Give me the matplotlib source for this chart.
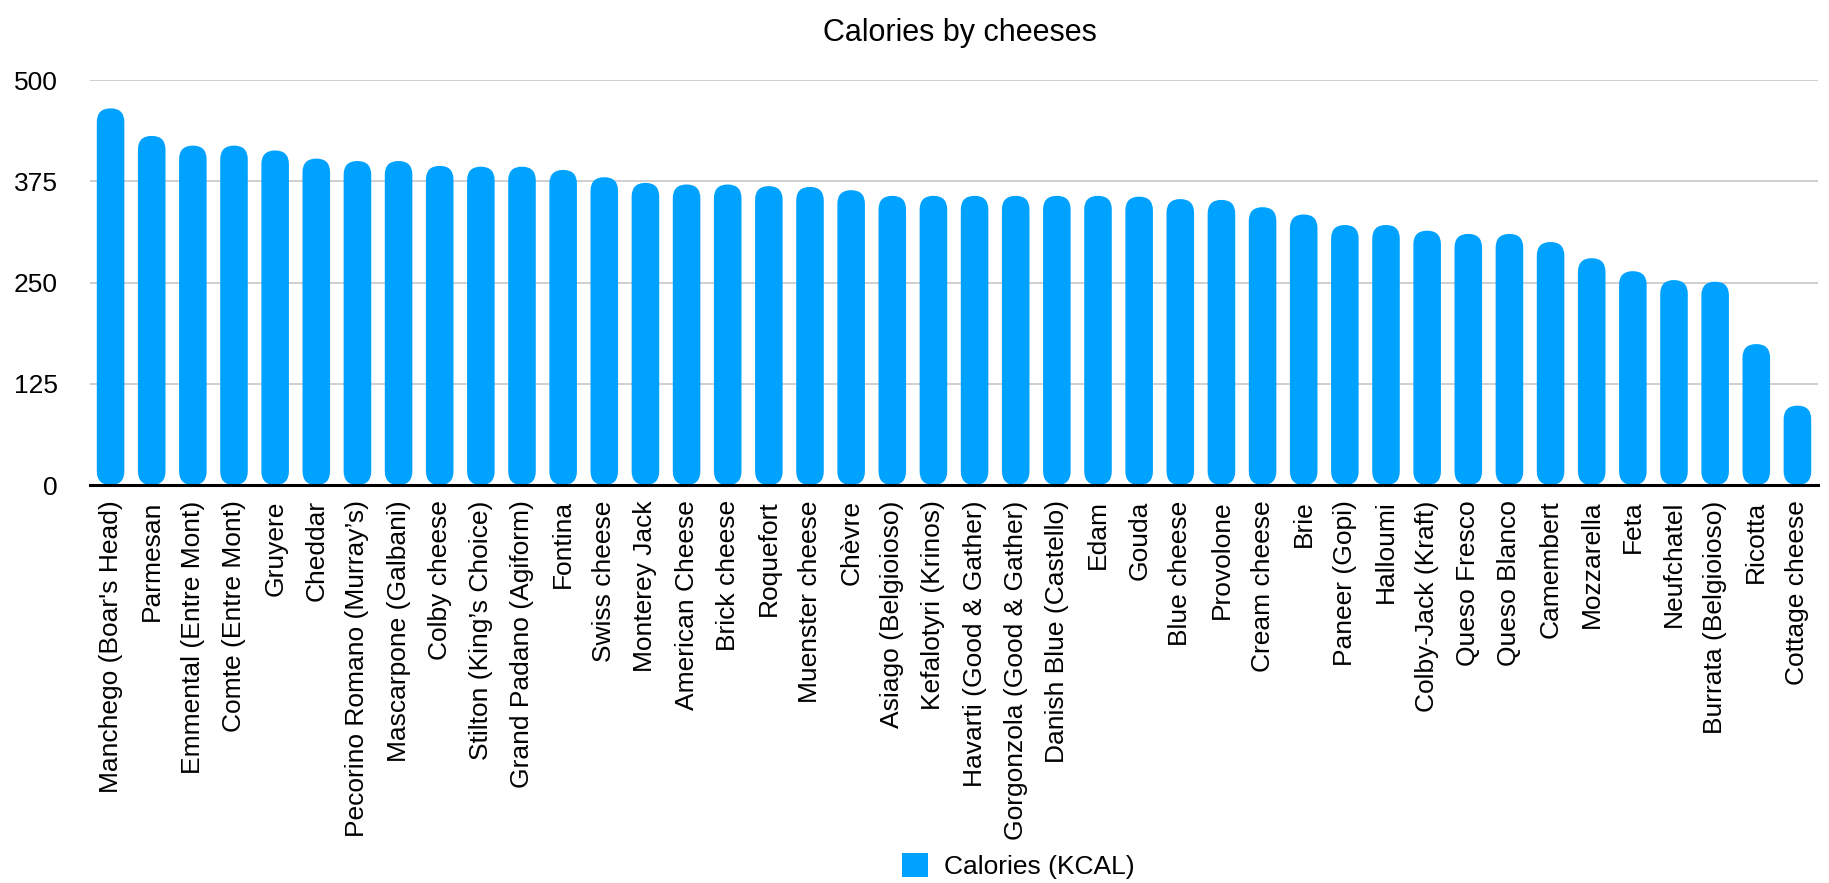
import matplotlib
matplotlib.use('Agg')
import matplotlib.pyplot as plt
from matplotlib.patches import FancyBboxPatch, Patch

plt.rcParams['font.family'] = ['Liberation Sans', 'DejaVu Sans']

# data
cheeses = ["Manchego (Boar's Head)", 'Parmesan', 'Emmental (Entre Mont)', 'Comte (Entre Mont)',
           'Gruyere', 'Cheddar', 'Pecorino Romano (Murray\u2019s)', 'Mascarpone (Galbani)',
           'Colby cheese', 'Stilton (King\u2019s Choice)', 'Grand Padano (Agiform)', 'Fontina',
           'Swiss cheese', 'Monterey Jack', 'American Cheese', 'Brick cheese', 'Roquefort',
           'Muenster cheese', 'Ch\u00e8vre', 'Asiago (Belgioioso)', 'Kefalotyri (Krinos)',
           'Havarti (Good & Gather)', 'Gorgonzola (Good & Gather)', 'Danish Blue (Castello)',
           'Edam', 'Gouda', 'Blue cheese', 'Provolone', 'Cream cheese', 'Brie', 'Paneer (Gopi)',
           'Halloumi', 'Colby-Jack (Kraft)', 'Queso Fresco', 'Queso Blanco', 'Camembert',
           'Mozzarella', 'Feta', 'Neufchatel', 'Burrata (Belgioioso)', 'Ricotta', 'Cottage cheese']
calories = [465, 431, 419, 419, 413, 403, 400, 400, 394, 393, 393, 389, 380, 373, 371, 371,
            369, 368, 364, 357, 357, 357, 357, 357, 357, 356, 353, 352, 343, 334, 321, 321,
            314, 310, 310, 300, 280, 264, 253, 251, 174, 98]
yticks = [0, 125, 250, 375, 500]

blue = '#00A2FF'
W, H = 1829, 883

fig = plt.figure(figsize=(W / 100, H / 100), dpi=100)
ax = fig.add_axes([90 / W, 1 - 485 / H, (1818 - 90) / W, (485 - 80) / H])

x = list(range(len(cheeses)))
bars = ax.bar(x, calories, width=0.67, color=blue)
ax.set_xlim(-0.5, len(cheeses) - 0.5)
ax.set_ylim(0, 500)

# turn each bar into a pill shape
px_x = ax.get_window_extent().width / (len(cheeses))
px_y = ax.get_window_extent().height / 500
aspect = px_x / px_y
for b in bars:
    b.set_visible(False)
    r = b.get_width() / 2
    pill = FancyBboxPatch((b.get_x(), b.get_y()), b.get_width(), b.get_height(),
                          boxstyle=f'round,pad=0,rounding_size={r}',
                          mutation_aspect=aspect, facecolor=blue, edgecolor='none', zorder=3)
    ax.add_patch(pill)

ax.set_yticks(yticks)
ax.set_yticklabels([str(t) for t in yticks], fontsize=19)
ax.set_xticks(x)
ax.set_xticklabels(cheeses, rotation=90, fontsize=19)
ax.tick_params(axis='both', length=0)
ax.tick_params(axis='y', pad=23)
ax.tick_params(axis='x', pad=11)

ax.grid(axis='y', color='#cccccc', linewidth=1.3)
ax.set_axisbelow(True)
for s in ['left', 'right', 'top']:
    ax.spines[s].set_visible(False)
ax.spines['bottom'].set_color('black')
ax.spines['bottom'].set_linewidth(2.2)
ax.spines['bottom'].set_zorder(4)

fig.text(960 / W, 1 - 33 / H, 'Calories by cheeses', fontsize=22, ha='center', va='center')

fig.legend(handles=[Patch(facecolor=blue, label='Calories (KCAL)')],
           loc='center', bbox_to_anchor=(1018 / W, 1 - 866 / H), frameon=False,
           fontsize=19, handlelength=1.0, handleheight=1.0, handletextpad=0.6)

fig.savefig('out.png', dpi=100)
